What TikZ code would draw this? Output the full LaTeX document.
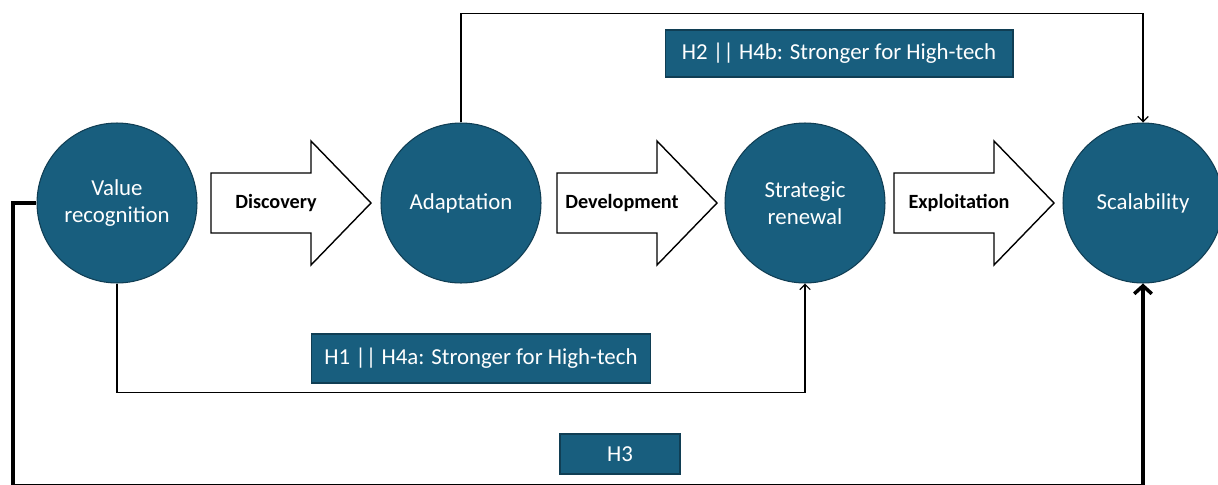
\documentclass[tikz,border=0pt]{standalone}
\usepackage{fontspec}
\setmainfont{Carlito}
\usetikzlibrary{arrows.meta}
\definecolor{stagefill}{RGB}{24,94,126}
\definecolor{stageline}{RGB}{16,62,84}
\tikzset{
  stage/.style={circle, fill=stagefill, draw=stageline, line width=0.6pt,
    minimum size=3.2cm, inner sep=0pt, text=white, align=center,
    font=\fontsize{13}{15.5}\selectfont},
  hyp/.style={rectangle, fill=stagefill, draw=stageline, line width=0.6pt,
    text=white, inner sep=0pt, font=\fontsize{13}{15.5}\selectfont},
  phase/.style={draw, line width=0.8pt, fill=white, line join=miter},
  phasetext/.style={font=\bfseries\fontsize{11.5}{14}\selectfont},
  link/.style={line width=0.7pt, -{Straight Barb[length=3pt,width=6pt]}},
  mainlink/.style={line width=2pt, -{Straight Barb[length=4.5pt,width=10pt]}}
}
\begin{document}
\begin{tikzpicture}[x=0.02cm,y=-0.02cm]
    \useasboundingbox (0,0) rectangle (1218,484);
    \clip (0,0) rectangle (1218,484);
    % stages
    \node[stage] (value) at (117,203) {Value\\recognition};
    \node[stage] (adapt) at (461,203) {Adaptation};
    \node[stage] (renewal) at (805,203) {Strategic\\renewal};
    \node[stage] (scale) at (1143,203) {Scalability};
    % block arrows between the stages
    \foreach \x/\lbl in {211/Discovery, 557/Development, 894/Exploitation} {
        \draw[phase] (\x,173) -- ++(100,0) -- ++(0,-32) -- ++(60,62) -- ++(-60,62)
            -- ++(0,-32) -- ++(-100,0) -- cycle;
        \node[phasetext] (\lbl) at (\x+65,203) {\lbl};
    }
    % hypotheses
    \node[hyp, minimum width=6.96cm, minimum height=0.94cm] (h2) at (839,53.5)
        {H2 || H4b: Stronger for High-tech};
    \node[hyp, minimum width=6.8cm, minimum height=0.98cm] (h1) at (481,358.5)
        {H1 || H4a: Stronger for High-tech};
    \node[hyp, minimum width=2.4cm, minimum height=0.8cm] (h3) at (620,454) {H3};
    % links
    \draw[link] (adapt.north) -- ++(0,-109) -| (scale.north);
    \draw[link] (value.south) -- ++(0,109) -| (renewal.south);
    \coordinate (h3corner) at (13,485.5);
    \draw[mainlink, line join=miter] (value.west) -| (h3corner) -| (scale.south);
\end{tikzpicture}
\end{document}
